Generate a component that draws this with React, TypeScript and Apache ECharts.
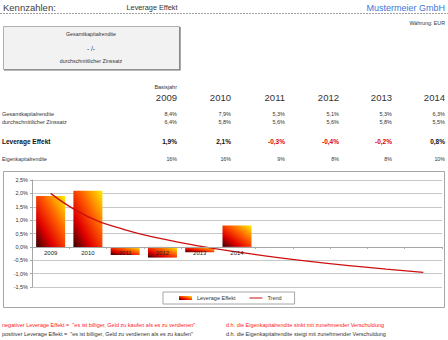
import React, { useEffect, useRef } from "react";
import * as echarts from "echarts";

const years = ["2009", "2010", "2011", "2012", "2013", "2014"];
const axisCategories = ["2009", "2010", "2011", "2012", "2013", "2014", "", "", "", "", ""];
const gesamtkapitalrendite = ["8,4%", "7,9%", "5,3%", "5,1%", "5,3%", "6,3%"];
const zinssatz = ["6,4%", "5,8%", "5,6%", "5,6%", "5,8%", "5,5%"];
const leverageLabels = ["1,9%", "2,1%", "-0,3%", "-0,4%", "-0,2%", "0,8%"];
const eigenkapitalrendite = ["16%", "16%", "9%", "8%", "8%", "10%"];
const leverageValues = [1.9, 2.1, -0.3, -0.4, -0.2, 0.8];
const trendValues = [2.0, 1.13, 0.64, 0.3, 0.03, -0.19, -0.38, -0.55, -0.7, -0.83, -0.95];

const FONT = "'Liberation Sans', Arial, sans-serif";
const colEdges = [177, 231, 285, 339, 392, 445];

function txt(x: number, y: number, text: string, opts: any = {}) {
  return {
    type: "text",
    x,
    y,
    silent: true,
    style: {
      text,
      fontFamily: FONT,
      fontSize: opts.size ?? 5.5,
      fontWeight: opts.weight ?? "normal",
      fill: opts.color ?? "#333333",
      align: opts.align ?? "left",
      verticalAlign: "middle",
    },
  };
}

export default function App() {
  const ref = useRef<HTMLDivElement>(null);
  useEffect(() => {
    if (!ref.current) return;
    const chart = echarts.init(ref.current, null, { renderer: "svg" });

    const barGradient = new echarts.graphic.LinearGradient(0, 1, 1, 0, [
      { offset: 0, color: "#3a0000" },
      { offset: 0.3, color: "#e00000" },
      { offset: 0.6, color: "#ff5a00" },
      { offset: 1, color: "#ffee00" },
    ]);

    const graphics: any[] = [];
    // header
    graphics.push(txt(3, 7.5, "Kennzahlen:", { size: 9.5, color: "#404040" }));
    graphics.push(txt(152, 7.5, "Leverage Effekt", { size: 7.3, align: "center", color: "#333" }));
    graphics.push(txt(445, 7.5, "Mustermeier GmbH", { size: 9, align: "right", color: "#3c78d8" }));
    graphics.push({
      type: "line",
      silent: true,
      shape: { x1: 0, y1: 13.5, x2: 448, y2: 13.5 },
      style: { stroke: "#a0a0a0", lineWidth: 1, lineDash: [2, 1] },
    });
    graphics.push(txt(445, 23, "Währung: EUR", { size: 5.3, align: "right", color: "#333" }));
    // formula box
    graphics.push({
      type: "rect",
      silent: true,
      shape: { x: 3.5, y: 26.5, width: 176, height: 43 },
      style: { fill: "#f2f2f2", stroke: "#b0b0b0", lineWidth: 1 },
    });
    graphics.push({
      type: "polyline",
      silent: true,
      shape: { points: [[180, 27], [180, 70], [4, 70]] },
      style: { stroke: "#707070", lineWidth: 1.2, fill: "none" },
    });
    graphics.push(txt(91, 34, "Gesamtkapitalrendite", { size: 5.3, align: "center" }));
    graphics.push(txt(91, 48, "- /-", { size: 6.5, align: "center" }));
    graphics.push(txt(91, 61, "durchschnittlicher Zinssatz", { size: 5.3, align: "center" }));

    // table
    graphics.push(txt(177, 87, "Basisjahr", { size: 5.5, align: "right" }));
    years.forEach((y, i) => graphics.push(txt(colEdges[i], 97, y, { size: 9.5, align: "right", color: "#333" })));
    graphics.push(txt(2, 114, "Gesamtkapitalrendite", { size: 5.5 }));
    graphics.push(txt(2, 122, "durchschnittlicher Zinssatz", { size: 5.5 }));
    graphics.push(txt(2, 141, "Leverage Effekt", { size: 6.5, weight: "bold", color: "#111" }));
    graphics.push(txt(2, 159, "Eigenkapitalrendite", { size: 5.3 }));
    gesamtkapitalrendite.forEach((v, i) => graphics.push(txt(colEdges[i], 114, v, { size: 5.5, align: "right" })));
    zinssatz.forEach((v, i) => graphics.push(txt(colEdges[i], 122, v, { size: 5.5, align: "right" })));
    leverageLabels.forEach((v, i) =>
      graphics.push(
        txt(colEdges[i], 141, v, {
          size: 6.5,
          weight: "bold",
          align: "right",
          color: leverageValues[i] < 0 ? "#e00000" : "#111",
        })
      )
    );
    eigenkapitalrendite.forEach((v, i) => graphics.push(txt(colEdges[i], 159, v, { size: 5.3, align: "right" })));

    // chart border
    graphics.push({
      type: "rect",
      silent: true,
      z: -10,
      shape: { x: 3.5, y: 171.5, width: 441, height: 136 },
      style: { fill: "#ffffff", stroke: "#a6a6a6", lineWidth: 1 },
    });

    // footer
    graphics.push(
      txt(2, 325, 'negativer Leverage Effekt =  "es ist billiger, Geld zu kaufen als es zu verdienen"', {
        size: 5.5,
        color: "#ff2020",
      })
    );
    graphics.push(
      txt(226, 325, "d.h. die Eigenkapitalrendite sinkt mit zunehmender Verschuldung", { size: 5.5, color: "#ff2020" })
    );
    graphics.push(
      txt(2, 334, 'positiver Leverage Effekt =  "es ist billiger, Geld zu verdienen als es zu kaufen"', {
        size: 5.5,
        color: "#333",
      })
    );
    graphics.push(
      txt(226, 334, "d.h. die Eigenkapitalrendite steigt mit zunehmender Verschuldung", { size: 5.5, color: "#333" })
    );

    const lineIcon = "path://M0,0L0.01,0L0,0.01Z M0,1.5L13,1.5L13,2.6L0,2.6Z M12.99,4L13,4L13,3.99Z";

    chart.setOption({
      animation: false,
      backgroundColor: "#ffffff",
      textStyle: { fontFamily: FONT },
      graphic: graphics,
      grid: { left: 32, right: 6, top: 180, bottom: 53, containLabel: false },
      legend: {
        left: 163,
        top: 292,
        padding: [3, 13, 3, 16],
        borderColor: "#a6a6a6",
        borderWidth: 1,
        itemWidth: 13,
        itemHeight: 4,
        itemGap: 14,
        textStyle: { fontSize: 5.5, color: "#333", fontFamily: FONT },
        data: [
          { name: "Leverage Effekt", icon: "rect" },
          { name: "Trend", icon: lineIcon, itemStyle: { color: "#cc1010" } },
        ],
      },
      xAxis: {
        type: "category",
        data: axisCategories,
        offset: -40.1,
        z: 10,
        axisLine: { onZero: false, lineStyle: { color: "#a6a6a6", width: 1 } },
        axisTick: { show: true, length: 2, lineStyle: { color: "#a6a6a6" } },
        axisLabel: { fontSize: 6, color: "#222", margin: 3, interval: 0 },
        splitLine: { show: false },
      },
      yAxis: {
        type: "value",
        min: -1.5,
        max: 2.5,
        interval: 0.5,
        axisLine: { show: true, lineStyle: { color: "#a6a6a6" } },
        axisTick: { show: true, length: 2, lineStyle: { color: "#a6a6a6" } },
        axisLabel: {
          fontSize: 5.5,
          color: "#333",
          margin: 4,
          formatter: (v: number) => v.toFixed(1).replace(".", ",") + "%",
        },
        splitLine: { show: true, lineStyle: { color: "#c8c8c8", width: 1 } },
      },
      series: [
        {
          name: "Leverage Effekt",
          type: "bar",
          data: leverageValues,
          barWidth: 29,
          itemStyle: { color: barGradient },
          z: 2,
        },
        {
          name: "Trend",
          type: "line",
          data: trendValues,
          smooth: true,
          symbol: "none",
          lineStyle: { color: "#cc1010", width: 1.3 },
          itemStyle: { color: "#cc1010" },
          z: 3,
        },
      ],
    });
    return () => chart.dispose();
  }, []);
  return <div ref={ref} style={{ position: "absolute", left: 0, top: 0, width: 448, height: 340 }} />;
}
